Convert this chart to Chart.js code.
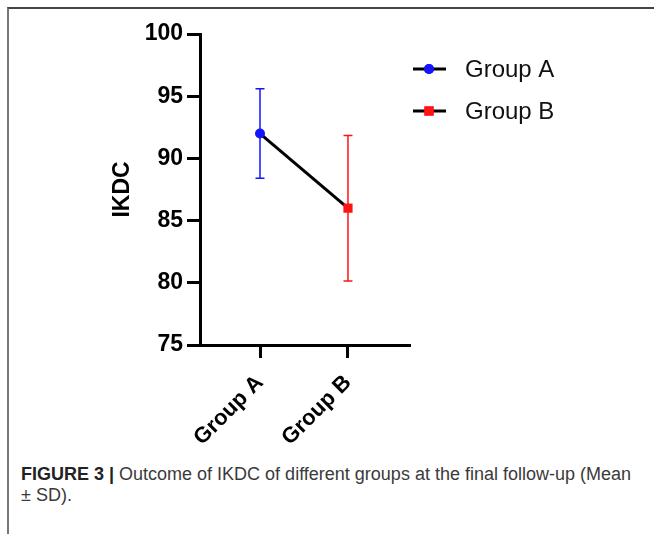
<!DOCTYPE html>
<html>
<head>
<meta charset="utf-8">
<script src="https://cdn.jsdelivr.net/npm/chart.js@4.4.1/dist/chart.umd.min.js"></script>
<style>
  html, body { margin: 0; padding: 0; background: #fff; }
  #fig { position: relative; width: 654px; height: 534px; overflow: hidden; }
  #frame { position: absolute; left: 7px; top: 7px; width: 660px; height: 540px;
           border-left: 2px solid #777; border-top: 2px solid #444; }
  #wrap { position: absolute; left: 0; top: 0; width: 654px; height: 460px; }
  #caption { position: absolute; left: 21px; top: 464px; width: 620px;
             font-family: "Liberation Sans", Arial, sans-serif; font-size: 18px;
             line-height: 21px; color: #3a3a3a; }
  #caption b { color: #222; }
</style>
</head>
<body>
<div id="fig">
  <div id="frame"></div>
  <div id="wrap"><canvas id="chart-area"></canvas></div>
  <div id="caption"><b>FIGURE 3 |</b> Outcome of IKDC of different groups at the final follow-up (Mean ± SD).</div>
</div>
<script>
// values
const groupLabels = ['Group A', 'Group B'];
const means = [92.0, 86.0];
const sds = [3.6, 5.85];
const groupColors = ['#1414ff', '#ff1414'];
const groupMarkers = ['circle', 'rect'];
const markerRadius = [5, 6.5];
const yTicks = [75, 80, 85, 90, 95, 100];

// error bars, drawn under the line
const errorBars = {
  id: 'errorBars',
  beforeDatasetsDraw(chart) {
    const ctx = chart.ctx;
    const xs = chart.scales.x, ys = chart.scales.y;
    ctx.save();
    ctx.lineWidth = 1.5;
    means.forEach((m, i) => {
      const px = xs.getPixelForValue(i + 1);
      const top = ys.getPixelForValue(m + sds[i]);
      const bot = ys.getPixelForValue(m - sds[i]);
      ctx.strokeStyle = groupColors[i];
      ctx.beginPath();
      ctx.moveTo(px, top); ctx.lineTo(px, bot);
      ctx.moveTo(px - 4.5, top); ctx.lineTo(px + 4.5, top);
      ctx.moveTo(px - 4.5, bot); ctx.lineTo(px + 4.5, bot);
      ctx.stroke();
    });
    ctx.restore();
  }
};

// legend with line through the marker
const sideLegend = {
  id: 'sideLegend',
  afterDraw(chart) {
    const ctx = chart.ctx;
    const x0 = chart.chartArea.right + 3;
    ctx.save();
    groupLabels.forEach((g, i) => {
      const y = 69 + i * 42;
      ctx.strokeStyle = '#000';
      ctx.lineWidth = 3;
      ctx.beginPath();
      ctx.moveTo(x0, y); ctx.lineTo(x0 + 33, y);
      ctx.stroke();
      ctx.fillStyle = groupColors[i];
      Chart.helpers.drawPoint(ctx, {pointStyle: groupMarkers[i], radius: markerRadius[i], borderWidth: 0}, x0 + 16, y);
      ctx.fill();
      ctx.fillStyle = '#111';
      ctx.font = '24px "Liberation Sans", Arial, sans-serif';
      ctx.textBaseline = 'middle';
      ctx.fillText(g, x0 + 52, y + 1);
    });
    ctx.restore();
  }
};

const ctx = document.getElementById('chart-area').getContext('2d');
const chart = new Chart(ctx, {
  type: 'line',
  data: {
    datasets: [{
      label: 'IKDC',
      data: means.map((m, i) => ({x: i + 1, y: m})),
      borderColor: '#000',
      borderWidth: 3,
      pointStyle: groupMarkers,
      pointRadius: markerRadius,
      pointBackgroundColor: groupColors,
      pointBorderColor: groupColors,
      pointBorderWidth: 0
    }]
  },
  options: {
    responsive: true,
    maintainAspectRatio: false,
    animation: false,
    layout: { padding: { left: 109, right: 244, top: 34, bottom: 0 } },
    plugins: { legend: { display: false }, tooltip: { enabled: false } },
    scales: {
      x: {
        type: 'linear',
        min: 0.318,
        max: 2.705,
        afterBuildTicks(scale) { scale.ticks = groupLabels.map((g, i) => ({value: i + 1})); },
        afterFit(scale) { scale.height = 115; },
        border: { display: true, color: '#000', width: 3 },
        grid: { drawOnChartArea: false, drawTicks: true, tickLength: 13, tickWidth: 3, tickColor: '#000' },
        ticks: {
          callback: (v) => groupLabels[Math.round(v) - 1],
          minRotation: 45, maxRotation: 45,
          color: '#000',
          padding: 12,
          font: { family: '"Liberation Sans", Arial, sans-serif', size: 22, weight: 'bold' }
        }
      },
      y: {
        min: 75,
        max: 100,
        afterBuildTicks(scale) { scale.ticks = yTicks.map(v => ({value: v})); },
        afterFit(scale) { scale.width = 91; },
        border: { display: true, color: '#000', width: 3 },
        grid: { drawOnChartArea: false, drawTicks: true, tickLength: 13, tickWidth: 3, tickColor: '#000' },
        ticks: {
          color: '#000',
          padding: 4,
          font: { family: '"Liberation Sans", Arial, sans-serif', size: 23, weight: 'bold' }
        },
        title: {
          display: true,
          text: 'IKDC',
          color: '#000',
          padding: { top: 0, bottom: 0 },
          font: { family: '"Liberation Sans", Arial, sans-serif', size: 23, weight: 'bold' }
        }
      }
    }
  },
  plugins: [errorBars, sideLegend]
});
</script>
</body>
</html>
